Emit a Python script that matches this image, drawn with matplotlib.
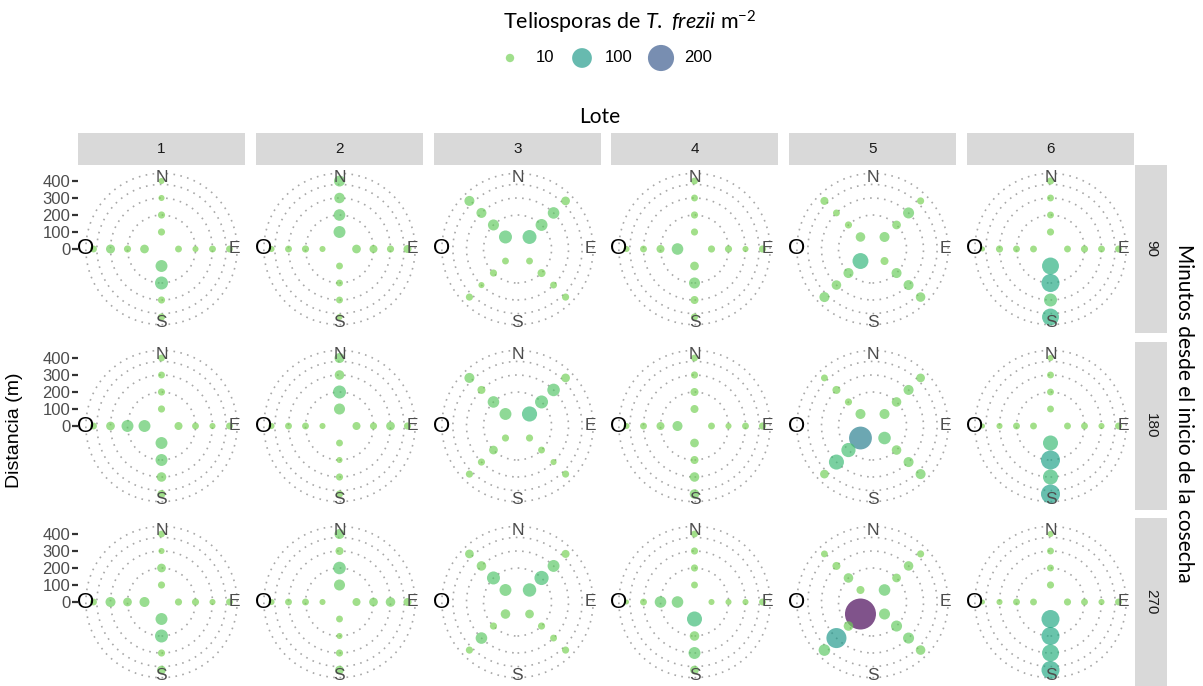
import numpy as np
import matplotlib
matplotlib.use("Agg")
import matplotlib.pyplot as plt
from matplotlib.colors import ListedColormap, Normalize
from matplotlib.patches import Circle, Rectangle

plt.rcParams['font.family'] = ['Liberation Sans', 'DejaVu Sans']
plt.rcParams['mathtext.fontset'] = 'custom'
plt.rcParams['mathtext.it'] = 'Lato:italic'
plt.rcParams['mathtext.rm'] = 'Lato'

# ---------------- data ----------------
lotes = [1, 2, 3, 4, 5, 6]
minutos = [90, 180, 270]
distancias = [100, 200, 300, 400]          # m, order of every list below
angulos = {'N': 90, 'E': 0, 'S': 270, 'O': 180,
           'NE': 45, 'NO': 135, 'SO': 225, 'SE': 315}
etiquetas_rumbo = ['N', 'E', 'S', 'O']
ticks_distancia = [0, 100, 200, 300, 400]
legend_breaks = [10, 100, 200]
anillos = [200, 300, 380, 445]              # dotted reference rings (m)
v_min, v_max = 5, 300                       # range of the size / colour scales

# teliosporas m-2 by direction, distances 100..400 m
# 90 minutes
l1_90 = {'N': [7, 7, 5.5, 5.5], 'O': [11, 7, 12, 6.5], 'E': [6.5, 5.5, 6.5, 6.5], 'S': [26, 33, 7, 7]}
l2_90 = {'N': [26, 24, 18, 21], 'O': [5.5, 7, 6.5, 5.5], 'E': [11, 9, 7, 9], 'S': [6.5, 6.5, 6.5, 5.5]}
l3_90 = {'NO': [33, 21, 16, 16], 'NE': [40, 26, 24, 11], 'SO': [6.5, 7, 5.5, 7], 'SE': [6.5, 9, 6.5, 7]}
l4_90 = {'N': [7, 7, 6.5, 6.5], 'O': [24, 9, 6.5, 5.5], 'E': [7, 7, 5.5, 7], 'S': [11, 21, 9, 7]}
l5_90 = {'NO': [14, 7, 6.5, 9], 'NE': [16, 11, 21, 7], 'SO': [57, 16, 14, 16], 'SE': [9, 16, 16, 14]}
l6_90 = {'N': [7, 6.5, 6.5, 7], 'O': [6.5, 6.5, 7, 5], 'E': [6.5, 7, 6.5, 6.5], 'S': [67, 79, 33, 67]}
# 180 minutes
l1_180 = {'N': [7, 7, 6.5, 6.5], 'O': [26, 26, 11, 6.5], 'E': [9, 6.5, 5.5, 6.5], 'S': [26, 26, 14, 9]}
l2_180 = {'N': [21, 33, 14, 16], 'O': [5.5, 6.5, 6.5, 5.5], 'E': [9, 7, 11, 7], 'S': [6.5, 5.5, 7, 7]}
l3_180 = {'NO': [26, 24, 9, 16], 'NE': [50, 33, 30, 11], 'SO': [7, 11, 7, 7], 'SE': [7, 6.5, 5.5, 7]}
l4_180 = {'N': [9, 9, 7, 6.5], 'O': [16, 9, 6.5, 5.5], 'E': [6.5, 5.5, 6.5, 7], 'S': [11, 9, 14, 14]}
l5_180 = {'NO': [16, 7, 9, 6.5], 'NE': [16, 14, 16, 11], 'SO': [144, 42, 49, 11], 'SE': [30, 14, 16, 16]}
l6_180 = {'N': [6.5, 6.5, 6.5, 5.5], 'O': [6.5, 6.5, 5.5, 5], 'E': [6.5, 6.5, 5.5, 6.5], 'S': [49, 91, 49, 91]}
# 270 minutes
l1_270 = {'N': [7, 11, 5.5, 6.5], 'O': [16, 11, 16, 6.5], 'E': [7, 7, 5.5, 6.5], 'S': [26, 33, 7, 11]}
l2_270 = {'N': [21, 30, 9, 16], 'O': [5.5, 6.5, 6.5, 5.5], 'E': [9, 11, 14, 9], 'S': [6.5, 5.5, 7, 11]}
l3_270 = {'NO': [26, 33, 14, 11], 'NE': [36, 42, 26, 9], 'SO': [14, 7, 24, 7], 'SE': [11, 7, 6.5, 7]}
l4_270 = {'N': [6.5, 7, 7, 6.5], 'O': [24, 24, 6.5, 5], 'E': [5.5, 5.5, 5.5, 6.5], 'S': [49, 14, 26, 11]}
l5_270 = {'NO': [9, 14, 9, 6.5], 'NE': [24, 11, 14, 7], 'SO': [300, 14, 104, 24], 'SE': [21, 21, 21, 14]}
l6_270 = {'N': [7, 6.5, 6.5, 5.5], 'O': [6.5, 6.5, 5.5, 5], 'E': [7, 6.5, 5.5, 6.5], 'S': [79, 79, 67, 79]}

paneles = [[l1_90, l2_90, l3_90, l4_90, l5_90, l6_90],
           [l1_180, l2_180, l3_180, l4_180, l5_180, l6_180],
           [l1_270, l2_270, l3_270, l4_270, l5_270, l6_270]]

# ---------------- style / layout ----------------
W, H = 1203, 686
fig = plt.figure(figsize=(W / 100, H / 100), dpi=100)
fig.patch.set_facecolor('white')

def fx(px):
    return px / W

def fy(py):
    return 1 - py / H

cmap = ListedColormap(plt.cm.viridis(np.linspace(0.8, 0.0, 256)))
norm = Normalize(v_min, v_max)
ALPHA = 0.68

def diam_px(v):
    x = np.clip((np.asarray(v, dtype=float) - v_min) / (v_max - v_min), 0, 1)
    return 5.0 + 26.0 * np.sqrt(x)

def size_pt2(v):
    return (diam_px(v) * 0.72) ** 2

col_left = [78, 256, 434, 611, 789, 967]
panel_w = 167
row_top = [165, 342, 518]
panel_h = 168
px_per_m = 0.17
half_x = (panel_w / 2) / px_per_m
half_y = (panel_h / 2) / px_per_m

strip_col = '#d9d9d9'

for i, t in enumerate(minutos):
    for j, lote in enumerate(lotes):
        L, T = col_left[j], row_top[i]
        ax = fig.add_axes([fx(L), fy(T + panel_h), panel_w / W, panel_h / H])
        ax.set_xlim(-half_x, half_x)
        ax.set_ylim(-half_y, half_y)
        for sp in ax.spines.values():
            sp.set_visible(False)
        ax.set_facecolor('white')
        ax.set_xticks([])
        for r in anillos:
            ax.add_patch(Circle((0, 0), r, fill=False, edgecolor='#a8a8a8',
                                lw=1.2, ls=(0, (1, 3.2)), zorder=1))
        datos = paneles[i][j]
        xs, ys, vs = [], [], []
        for rumbo, vals in datos.items():
            a = np.deg2rad(angulos[rumbo])
            for d, v in zip(distancias, vals):
                xs.append(d * np.cos(a))
                ys.append(d * np.sin(a))
                vs.append(v)
        ax.scatter(xs, ys, s=size_pt2(vs), c=vs, cmap=cmap, norm=norm,
                   alpha=ALPHA, edgecolors='none', zorder=3)
        # direction labels
        for et in etiquetas_rumbo:
            a = np.deg2rad(angulos[et])
            if et == 'O':
                ax.text(445 * np.cos(a), 445 * np.sin(a), et, ha='center', va='center',
                        fontsize=16, color='black', zorder=4)
            else:
                rr = 430 if et != 'N' else 420
                ax.text(rr * np.cos(a), rr * np.sin(a), et, ha='center', va='center',
                        fontsize=12.5, color='#4d4d4d', zorder=4)
        if j == 0:
            ax.set_yticks(ticks_distancia)
            ax.set_yticklabels([str(v) for v in ticks_distancia])
            ax.tick_params(axis='y', length=4, width=1.6, color='#333333',
                           labelsize=12, labelcolor='#4d4d4d', pad=1.5)
        else:
            ax.set_yticks([])

# column strips
for j, lote in enumerate(lotes):
    fig.patches.append(Rectangle((fx(col_left[j]), fy(165)), panel_w / W, 32 / H,
                                 transform=fig.transFigure, facecolor=strip_col,
                                 edgecolor='none', zorder=0))
    fig.text(fx(col_left[j] + panel_w / 2), fy(149), str(lote), ha='center', va='center',
             fontsize=11, color='#1a1a1a')

# row strips
for i, t in enumerate(minutos):
    fig.patches.append(Rectangle((fx(1135), fy(row_top[i] + panel_h)), 32 / W, panel_h / H,
                                 transform=fig.transFigure, facecolor=strip_col,
                                 edgecolor='none', zorder=0))
    fig.text(fx(1151), fy(row_top[i] + panel_h / 2), str(t), ha='center', va='center',
             rotation=-90, fontsize=11, color='#1a1a1a')

# titles
fig.text(fx(600), fy(117), 'Lote', ha='center', va='center', fontsize=15,
         family=['Lato', 'DejaVu Sans'], color='black')
fig.text(fx(1184), fy(413), 'Minutos desde el inicio de la cosecha', ha='center',
         va='center', rotation=-90, fontsize=15, family=['Lato', 'DejaVu Sans'], color='black')
fig.text(fx(15), fy(430), 'Distancia (m)', ha='center', va='center', rotation=90,
         fontsize=14, color='black')

# legend (drawn manually in pixel coordinates)
lax = fig.add_axes([0, 0, 1, 1], facecolor='none')
lax.set_xlim(0, W)
lax.set_ylim(H, 0)
lax.axis('off')
lax.text(630, 22, r'Teliosporas de $\mathit{T.\ frezii}$ m$^{-2}$', ha='center', va='center',
         fontsize=15.5, family=['Lato', 'DejaVu Sans'], color='black')
key_x = [510, 582, 661]
lab_x = [536, 605, 684]
lax.scatter(key_x, [58] * 3, s=size_pt2(legend_breaks), c=legend_breaks, cmap=cmap,
            norm=norm, alpha=ALPHA, edgecolors='none')
for lx, v in zip(lab_x, legend_breaks):
    lax.text(lx, 58, str(v), ha='left', va='center', fontsize=12, color='black')

fig.savefig('out.png', dpi=100, facecolor='white')
